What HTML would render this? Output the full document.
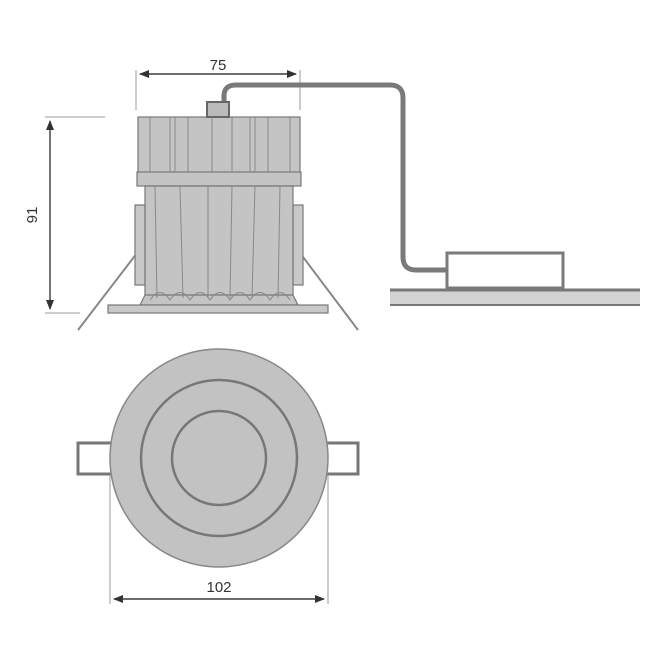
<!DOCTYPE html>
<html><head><style>body{margin:0;background:#fff}svg{display:block}</style></head>
<body>
<svg width="655" height="655" viewBox="0 0 655 655" xmlns="http://www.w3.org/2000/svg" font-family="Liberation Sans, sans-serif">
<defs>
<marker id="ar" markerWidth="10" markerHeight="8" refX="9" refY="4" orient="auto" markerUnits="userSpaceOnUse"><path d="M0,0 L10,4 L0,8 Z" fill="#333"/></marker>
</defs>
<!-- dimension 75 -->
<line x1="136" y1="70" x2="136" y2="110" stroke="#999" stroke-width="1"/>
<line x1="300" y1="70" x2="300" y2="110" stroke="#999" stroke-width="1"/>
<line x1="140" y1="74" x2="296" y2="74" stroke="#333" stroke-width="1.2" marker-end="url(#ar)"/>
<line x1="296" y1="74" x2="140" y2="74" stroke="#333" stroke-width="1.2" marker-end="url(#ar)"/>
<text x="218" y="70" font-size="15" text-anchor="middle" fill="#333">75</text>
<!-- dimension 91 -->
<line x1="45" y1="117" x2="105" y2="117" stroke="#999"/>
<line x1="45" y1="313" x2="80" y2="313" stroke="#999"/>
<line x1="50" y1="121" x2="50" y2="309" stroke="#333" stroke-width="1.2" marker-end="url(#ar)"/>
<line x1="50" y1="309" x2="50" y2="121" stroke="#333" stroke-width="1.2" marker-end="url(#ar)"/>
<text transform="translate(37,215) rotate(-90)" font-size="15" text-anchor="middle" fill="#333">91</text>
<!-- wire -->
<path d="M224,104 L224,96 Q224,85 236,85 L390,85 Q403,85 403,98 L403,257 Q403,270 416,270 L447,270" fill="none" stroke="#7a7a7a" stroke-width="5"/>
<!-- ceiling -->
<rect x="390" y="289" width="250" height="16" fill="#d2d2d2"/>
<line x1="390" y1="290" x2="640" y2="290" stroke="#777" stroke-width="3"/>
<line x1="390" y1="305" x2="640" y2="305" stroke="#777" stroke-width="2"/>
<!-- driver -->
<rect x="447" y="253" width="116" height="35" fill="#fff" stroke="#7a7a7a" stroke-width="3"/>
<!-- springs -->
<line x1="137" y1="253" x2="78" y2="330" stroke="#888" stroke-width="2"/>
<line x1="300" y1="253" x2="358" y2="330" stroke="#888" stroke-width="2"/>
<!-- side view body -->
<g stroke="#777" stroke-width="1.2">
<rect x="135" y="205" width="10" height="80" fill="#c8c8c8"/>
<rect x="293" y="205" width="10" height="80" fill="#c8c8c8"/>
<rect x="138" y="117" width="162" height="56" fill="#c4c4c4"/>
<rect x="137" y="172" width="164" height="14" fill="#c4c4c4"/>
<path d="M145,186 L293,186 L293,300 L145,300 Z" fill="#c4c4c4"/>
<path d="M145,295 L140,305 L298,305 L293,295 Z" fill="#c4c4c4"/>
<rect x="108" y="305" width="220" height="8" fill="#c8c8c8"/>
<rect x="207" y="102" width="22" height="15" fill="#bbb" stroke="#666" stroke-width="2"/>
</g>
<g stroke="#888" stroke-width="1" fill="none">
<path d="M150,117V172 M170,117V172 M175,117V172 M188,117V172 M212,117V172 M232,117V172 M250,117V172 M255,117V172 M268,117V172 M290,117V172"/>
<path d="M155,186 L157,298 M180,186 L183,298 M208,186 L208,298 M232,186 L230,298 M255,186 L252,298 M280,186 L278,298"/>
<path d="M150,300 Q160,285 170,300 Q180,285 190,300 Q200,285 210,300 Q220,285 230,300 Q240,285 250,300 Q260,285 270,300 Q280,285 290,300"/>
</g>
<!-- top view -->
<rect x="78" y="443" width="34" height="31" fill="#fff" stroke="#777" stroke-width="3"/>
<rect x="326" y="443" width="32" height="31" fill="#fff" stroke="#777" stroke-width="3"/>
<circle cx="219" cy="458" r="109" fill="#c2c2c2" stroke="#888" stroke-width="1.5"/>
<circle cx="219" cy="458" r="78" fill="none" stroke="#777" stroke-width="2.5"/>
<circle cx="219" cy="458" r="47" fill="none" stroke="#777" stroke-width="2.5"/>
<!-- dimension 102 -->
<line x1="110" y1="475" x2="110" y2="604" stroke="#999"/>
<line x1="328" y1="475" x2="328" y2="604" stroke="#999"/>
<line x1="114" y1="599" x2="324" y2="599" stroke="#333" stroke-width="1.2" marker-end="url(#ar)"/>
<line x1="324" y1="599" x2="114" y2="599" stroke="#333" stroke-width="1.2" marker-end="url(#ar)"/>
<text x="219" y="592" font-size="15" text-anchor="middle" fill="#333">102</text>
</svg>
</body></html>
